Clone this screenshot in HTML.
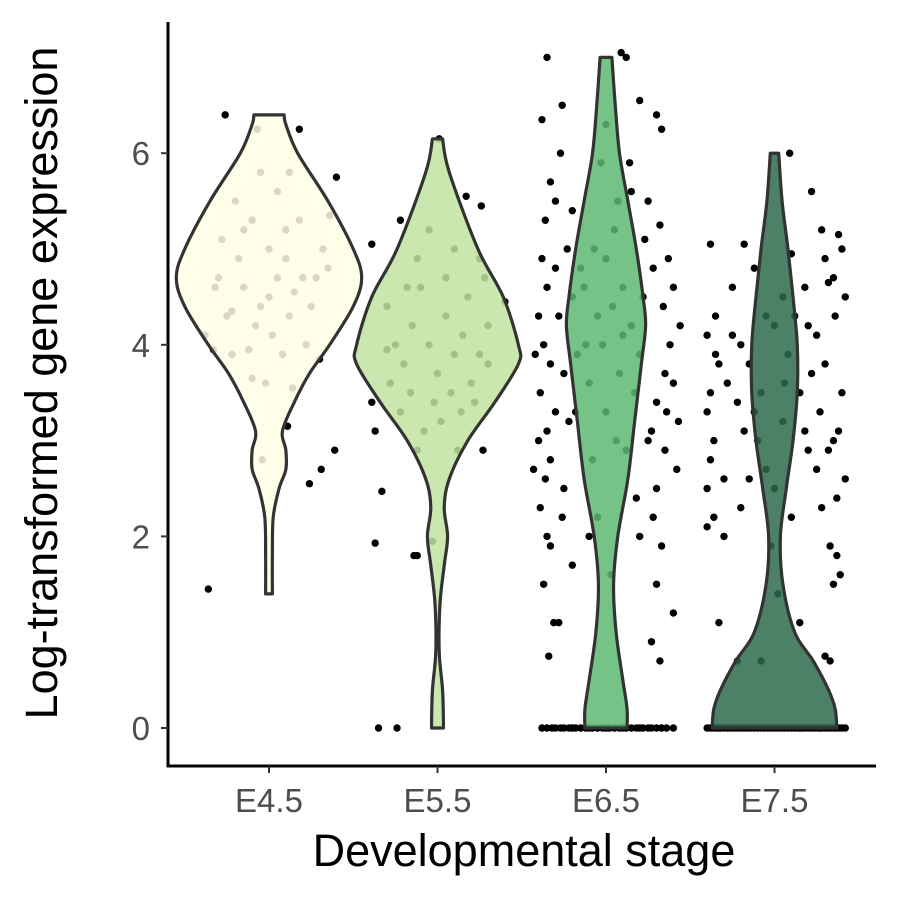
<!DOCTYPE html>
<html><head><meta charset="utf-8"><style>
html,body{margin:0;padding:0;background:#fff}
svg{display:block}
text{font-family:"Liberation Sans",Arial,sans-serif}
</style></head><body>
<svg id="chart" width="900" height="900" viewBox="0 0 900 900" xmlns="http://www.w3.org/2000/svg">
<g id="points"></g>
<g id="violins"></g>
<g id="axes"></g>
</svg>
<script>
const categories = ["E4.5","E5.5","E6.5","E7.5"];
const fillColors = ["#ffffe5","#bfe3a0","#5db872","#2d6a4c"];
const yTicks = [0,2,4,6];
// violin density profiles: [value, half-width density]
const densE45 = [[6.4,0.09],[6.3,0.1],[6.0,0.17],[5.5,0.35],[5.0,0.5],[4.7,0.55],[4.4,0.5],[4.0,0.36],[3.7,0.24],[3.4,0.15],[3.1,0.08],[2.9,0.1],[2.7,0.1],[2.5,0.06],[2.2,0.025],[1.8,0.02],[1.4,0.02]];
const densE55 = [[6.15,0.03],[5.8,0.07],[5.0,0.24],[4.5,0.39],[4.0,0.48],[3.8,0.48],[3.4,0.34],[3.0,0.18],[2.6,0.07],[2.3,0.04],[2.0,0.06],[1.7,0.04],[1.3,0.015],[0.8,0.01],[0.4,0.03],[0.1,0.035],[0.0,0.035]];
const densE65 = [[7.0,0.035],[6.5,0.055],[6.0,0.08],[5.5,0.13],[5.0,0.18],[4.5,0.22],[4.2,0.235],[3.8,0.21],[3.2,0.17],[2.6,0.13],[2.0,0.07],[1.5,0.045],[1.0,0.06],[0.5,0.1],[0.2,0.125],[0.0,0.125]];
const densE75 = [[6.0,0.025],[5.5,0.045],[5.0,0.08],[4.5,0.11],[4.0,0.135],[3.5,0.135],[3.0,0.11],[2.5,0.07],[2.0,0.035],[1.5,0.05],[1.0,0.12],[0.7,0.23],[0.4,0.32],[0.2,0.36],[0.0,0.37]];
const densities = [densE45,densE55,densE65,densE75];
// jittered points: [jitter (category units), value]
const ptsE45 = [[-0.26,6.4],[-0.07,6.25],[0.18,6.25],[0.4,5.75],[-0.36,1.45],[0.24,2.55],[0.31,2.7],[0.39,2.9],[0.11,3.15],[-0.04,2.8],[0.36,5.35],[-0.38,4.1],[-0.33,3.95],[0.3,3.85],[0.14,3.55],[-0.1,3.65],[-0.2,5.5],[-0.1,5.3],[0.0,5.0],[0.1,4.9],[0.2,4.7],[-0.3,4.7],[-0.25,4.3],[-0.15,4.6],[-0.05,4.4],[0.05,4.7],[0.15,4.55],[0.25,4.4],[0.32,5.0],[-0.28,5.1],[-0.18,4.9],[-0.08,4.2],[0.02,4.1],[0.12,4.3],[0.22,4.0],[-0.22,3.9],[-0.12,3.95],[0.08,3.9],[0.18,5.3],[0.05,5.6],[-0.05,5.8],[0.1,5.2],[-0.22,4.35],[0.28,4.7],[-0.32,4.6],[0.35,4.8],[-0.15,5.2],[0.0,4.5],[0.12,5.8],[-0.02,3.6]];
const ptsE55 = [[-0.33,2.47],[-0.37,1.93],[-0.35,0],[-0.24,0],[-0.14,1.8],[-0.12,1.8],[-0.03,1.95],[0.27,2.9],[-0.37,3.1],[-0.39,3.4],[0.4,4.45],[0.28,4.7],[0.26,5.45],[0.17,5.55],[0.01,6.15],[-0.22,5.3],[-0.39,5.05],[-0.3,4.4],[-0.25,4.0],[-0.2,3.8],[-0.15,4.2],[-0.1,4.6],[-0.05,4.0],[0.0,3.7],[0.05,4.3],[0.1,3.9],[0.15,4.1],[0.2,3.6],[0.25,3.9],[0.3,3.8],[-0.28,3.6],[-0.22,3.3],[-0.16,3.5],[-0.08,3.1],[0.02,3.2],[0.08,3.5],[0.14,3.3],[0.22,3.4],[0.3,4.2],[-0.05,5.2],[0.1,5.0],[0.05,4.7],[-0.12,4.9],[0.18,4.5],[-0.18,4.6],[-0.02,3.4],[0.12,2.9],[-0.12,2.9],[0.25,4.9],[-0.3,3.95]];
const ptsE65 = [[-0.35,7.0],[0.09,7.05],[0.12,7.0],[-0.26,6.5],[-0.38,6.35],[0.2,6.55],[0.3,6.4],[0.33,6.25],[-0.27,6.0],[-0.33,5.7],[-0.3,5.5],[-0.36,5.3],[-0.2,5.4],[0.15,5.6],[0.25,5.5],[0.32,5.25],[0.37,4.9],[0.4,4.6],[0.44,4.2],[0.38,4.0],[0.35,3.7],[0.3,3.4],[0.27,3.1],[0.35,2.9],[0.42,2.7],[0.3,2.5],[0.28,2.2],[0.33,1.9],[0.3,1.5],[0.4,1.2],[0.27,0.9],[0.32,0.7],[-0.38,4.9],[-0.35,4.6],[-0.4,4.3],[-0.37,4.0],[-0.33,3.8],[-0.39,3.5],[-0.35,3.1],[-0.4,3.0],[-0.33,2.8],[-0.36,2.6],[-0.39,2.3],[-0.35,2.0],[-0.33,1.9],[-0.37,1.5],[-0.31,1.1],[-0.34,0.75],[-0.28,1.1],[-0.25,2.5],[-0.22,3.2],[-0.2,4.5],[-0.15,4.8],[-0.12,4.0],[-0.1,3.6],[-0.05,4.3],[0.0,4.9],[0.05,5.2],[0.1,4.6],[0.15,4.2],[0.2,3.9],[0.22,4.5],[-0.18,3.3],[-0.08,2.8],[0.0,3.3],[0.08,3.7],[0.12,2.9],[0.18,2.4],[-0.05,2.2],[0.03,1.6],[-0.03,5.9],[0.0,6.3],[-0.02,4.0],[0.04,4.4],[0.07,5.5],[-0.07,5.0],[0.1,4.1],[-0.13,4.6],[0.17,3.5],[-0.17,3.9],[0.25,3.0],[-0.25,3.7],[0.28,4.8],[-0.28,4.3],[0.23,5.1],[-0.23,5.0],[0.36,3.3],[-0.3,3.3],[0.4,3.6],[-0.42,3.9],[0.43,3.2],[-0.43,2.7],[0.2,2.0],[-0.2,1.7],[0.06,3.0],[-0.1,2.0],[0.14,5.9],[-0.3,4.8],[0.34,4.4],[-0.26,2.2],
[-0.35,0],[-0.32,0],[-0.3,0],[-0.27,0],[-0.25,0],[-0.22,0],[-0.2,0],[-0.18,0],[-0.15,0],[-0.12,0],[-0.1,0],[-0.05,0],[-0.02,0],[0.02,0],[0.05,0],[0.08,0],[0.12,0],[0.15,0],[0.18,0],[0.2,0],[0.22,0],[0.25,0],[0.27,0],[0.3,0],[0.33,0],[0.36,0],[0.4,0],[-0.38,0],[0.0,0],[0.1,0],[-0.08,0]];
const ptsE75 = [[-0.38,5.05],[-0.18,5.05],[0.09,6.0],[0.22,5.6],[0.38,5.15],[0.4,5.0],[0.3,4.9],[0.28,5.2],[0.32,4.65],[0.35,4.7],[0.42,4.5],[0.36,4.3],[0.25,4.1],[0.3,3.8],[0.4,3.5],[0.35,3.0],[0.38,3.1],[0.42,2.6],[0.37,2.4],[0.28,2.3],[0.33,1.9],[0.37,1.8],[0.39,1.6],[0.35,1.5],[0.3,0.75],[0.33,0.7],[-0.35,4.3],[-0.4,4.1],[-0.33,3.8],[-0.38,3.5],[-0.4,3.3],[-0.36,3.0],[-0.38,2.8],[-0.4,2.5],[-0.36,2.2],[-0.4,2.1],[-0.3,2.0],[-0.33,1.1],[-0.22,0.7],[-0.25,4.1],[-0.2,4.0],[-0.15,3.8],[-0.12,3.3],[-0.08,3.5],[-0.05,4.3],[0.0,4.2],[0.05,4.5],[0.08,3.9],[0.12,4.3],[0.15,3.5],[0.18,3.1],[0.2,2.9],[0.22,3.7],[-0.1,3.0],[-0.05,2.7],[0.0,2.5],[0.05,3.2],[-0.02,1.9],[0.02,1.4],[-0.15,2.6],[-0.22,3.4],[0.25,2.7],[0.27,3.3],[-0.28,3.6],[-0.3,2.6],[-0.2,2.3],[0.1,2.2],[0.15,1.1],[-0.08,0.7],[-0.12,4.8],[0.1,4.95],[-0.25,4.6],[0.18,4.6],[0.2,4.2],[-0.18,3.1],[0.32,2.9],[-0.35,3.9],[0.06,3.6],
[-0.4,0],[-0.38,0],[-0.36,0],[-0.34,0],[-0.32,0],[-0.3,0],[-0.28,0],[-0.26,0],[-0.24,0],[-0.22,0],[-0.2,0],[-0.18,0],[-0.16,0],[-0.14,0],[-0.12,0],[-0.1,0],[-0.08,0],[-0.06,0],[-0.04,0],[-0.02,0],[0.0,0],[0.02,0],[0.04,0],[0.06,0],[0.08,0],[0.1,0],[0.12,0],[0.14,0],[0.16,0],[0.18,0],[0.2,0],[0.22,0],[0.24,0],[0.26,0],[0.28,0],[0.3,0],[0.32,0],[0.34,0],[0.36,0],[0.38,0],[0.4,0],[0.42,0],[-0.33,0],[0.15,0],[0.27,0]];
const pointSets = [ptsE45,ptsE55,ptsE65,ptsE75];

const NS="http://www.w3.org/2000/svg";
const plot={left:168,right:876,top:22,bottom:766};
const y0px=728, unitPx=95.8;
function yScale(v){return y0px - v*unitPx;}
const band=168.5;
function xScale(i){return 269 + i*band;}
function wScale(d){return d*band;}
function mk(tag,attrs,parent){const e=document.createElementNS(NS,tag);for(const k in attrs)e.setAttribute(k,attrs[k]);parent.appendChild(e);return e;}

const gP=document.getElementById('points');
pointSets.forEach((pts,i)=>{
  pts.forEach(p=>{
    const c=mk('circle',{cx:xScale(i)+wScale(p[0]),cy:yScale(p[1]),r:3.7,fill:'#000'},gP);
    
    
  });
});

function smoothPath(pts){
  let d='M'+pts[0][0]+','+pts[0][1];
  for(let i=0;i<pts.length-1;i++){
    const p0=pts[Math.max(0,i-1)],p1=pts[i],p2=pts[i+1],p3=pts[Math.min(pts.length-1,i+2)];
    const c1=[p1[0]+(p2[0]-p0[0])/6,p1[1]+(p2[1]-p0[1])/6];
    const c2=[p2[0]-(p3[0]-p1[0])/6,p2[1]-(p3[1]-p1[1])/6];
    d+=' C'+c1[0]+','+c1[1]+' '+c2[0]+','+c2[1]+' '+p2[0]+','+p2[1];
  }
  return d;
}
const gV=document.getElementById('violins');
densities.forEach((dens,i)=>{
  const cx=xScale(i);
  const right=dens.map(p=>[cx+wScale(p[1]),yScale(p[0])]);
  const left=dens.slice().reverse().map(p=>[cx-wScale(p[1]),yScale(p[0])]);
  let d=smoothPath(right);
  d+=' L'+left[0][0]+','+left[0][1]+' '+smoothPath(left).slice(1).replace(/^[^C]*/,'');
  d+=' Z';
  const v=mk('path',{d:d,fill:fillColors[i],'fill-opacity':0.85,stroke:'#333','stroke-width':3.2,'stroke-linejoin':'round'},gV);
  
  
});

const gA=document.getElementById('axes');
const ya=mk('line',{x1:plot.left,y1:plot.top,x2:plot.left,y2:plot.bottom+1.5,stroke:'#000','stroke-width':3},gA);

const xa=mk('line',{x1:plot.left-1.5,y1:plot.bottom,x2:plot.right,y2:plot.bottom,stroke:'#000','stroke-width':3},gA);

yTicks.forEach(t=>{
  const tk=mk('line',{x1:plot.left-7,x2:plot.left,y1:yScale(t),y2:yScale(t),stroke:'#333','stroke-width':2},gA);
  
  const tx=mk('text',{x:150,y:yScale(t)+12,'text-anchor':'end','font-size':33,fill:'#4d4d4d'},gA);
  tx.textContent=t;
  
});
categories.forEach((c,i)=>{
  const tk=mk('line',{x1:xScale(i),x2:xScale(i),y1:plot.bottom,y2:plot.bottom+7,stroke:'#333','stroke-width':2},gA);
  
  const tx=mk('text',{x:xScale(i),y:812,'text-anchor':'middle','font-size':33,fill:'#4d4d4d'},gA);
  tx.textContent=c;
  
});
const xt=mk('text',{x:524,y:866,'text-anchor':'middle','font-size':45,fill:'#000'},gA);
xt.textContent='Developmental stage';

const yt=mk('text',{x:0,y:0,'text-anchor':'middle','font-size':45,fill:'#000',transform:'translate(57,383) rotate(-90)'},gA);
yt.textContent='Log-transformed gene expression';

</script>
</body></html>
